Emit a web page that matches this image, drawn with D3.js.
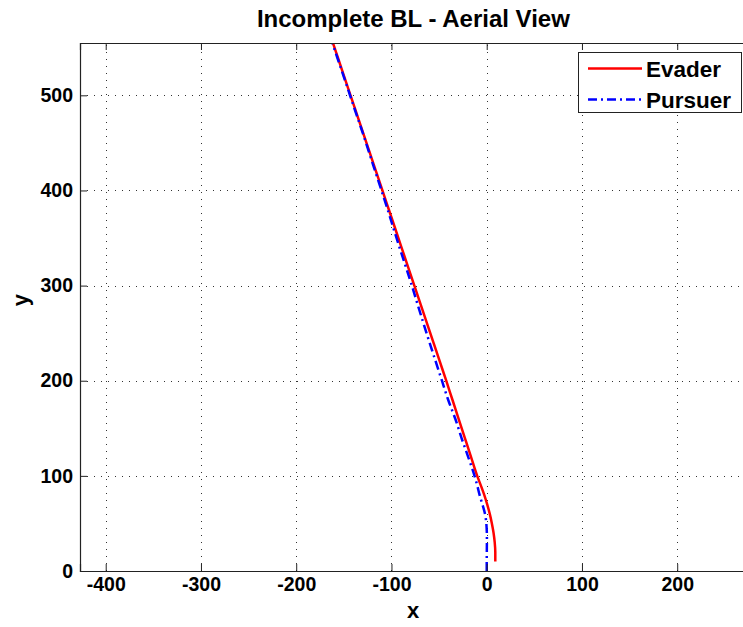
<!DOCTYPE html>
<html>
<head>
<meta charset="utf-8">
<script src="https://cdn.jsdelivr.net/npm/d3@7"></script>
<style>
  html, body { margin: 0; padding: 0; background: #fff; }
  svg { display: block; font-family: "Liberation Sans", Arial, sans-serif; font-weight: bold; }
</style>
</head>
<body>
<svg id="chart" width="743" height="627"></svg>
<script>
// Trajectory samples (x, y) for both agents
const evaderX = [9, 9, 8.4, 7.2, 5.4, 3.2, 0.5, -2.6, -6.2, -10, -16.5, -23, -29.5, -36, -42.5, -49.2, -55.9, -62.6, -69.3, -76, -82.7, -89.4, -96.1, -102.8, -109.5, -116.2, -122.9, -129.6, -136.3, -143, -149.7, -156.4, -163.1];
const evaderY = [10, 20, 30, 40, 50, 60, 70, 80, 90, 100, 120, 140, 160, 180, 200, 220, 240, 260, 280, 300, 320, 340, 360, 380, 400, 420, 440, 460, 480, 500, 520, 540, 560];

const pursuerX = [0, 0, 0.1, 0.2, -0.4, -1.8, -4.5, -7.5, -10, -12.8, -19.5, -26.5, -33, -40.5, -47, -53.5, -60, -66.3, -72.5, -78.6, -85, -91.5, -97.8, -104, -110.5, -117, -123.5, -130, -136.8, -143.5, -150.2, -157, -163.7];
const pursuerY = [0, 10, 20, 35, 50, 60, 70, 80, 90, 100, 120, 140, 160, 180, 200, 220, 240, 260, 280, 300, 320, 340, 360, 380, 400, 420, 440, 460, 480, 500, 520, 540, 560];

const xTicks = [-400, -300, -200, -100, 0, 100, 200];
const yTicks = [0, 100, 200, 300, 400, 500];
const seriesNames = ["Evader", "Pursuer"];

const svg = d3.select("#chart");
const plotLeft = 80, plotTop = 43, plotBottom = 571;
const xScale = d3.scaleLinear().domain([-427, 273]).range([plotLeft, plotLeft + 700 * 0.9525]);
const yScale = d3.scaleLinear().domain([0, 555]).range([plotBottom, plotTop]);
const plotRight = xScale.range()[1];

svg.append("defs").append("clipPath").attr("id", "plotClip")
  .append("rect").attr("x", plotLeft).attr("y", plotTop)
  .attr("width", plotRight - plotLeft).attr("height", plotBottom - plotTop);

// axes background
svg.append("rect").attr("x", plotLeft).attr("y", plotTop)
  .attr("width", plotRight - plotLeft).attr("height", plotBottom - plotTop).attr("fill", "#fff");

// dotted grid
const grid = svg.append("g").attr("stroke", "#333").attr("stroke-width", 1)
  .attr("stroke-dasharray", "1,6");
xTicks.forEach(t => grid.append("line")
  .attr("x1", Math.round(xScale(t)) + 0.5).attr("x2", Math.round(xScale(t)) + 0.5)
  .attr("y1", plotBottom).attr("y2", plotTop));
yTicks.filter(t => t > 0).forEach(t => grid.append("line")
  .attr("y1", Math.round(yScale(t)) + 0.5).attr("y2", Math.round(yScale(t)) + 0.5)
  .attr("x1", plotLeft).attr("x2", plotRight));

// trajectories
const lineGen = d3.line().x(d => xScale(d[0])).y(d => yScale(d[1])).curve(d3.curveMonotoneY);
const plot = svg.append("g").attr("clip-path", "url(#plotClip)");
plot.append("path").datum(evaderX.map((x, i) => [x, evaderY[i]]))
  .attr("d", lineGen).attr("fill", "none").attr("stroke", "#ff0000").attr("stroke-width", 2.5);
plot.append("path").datum(pursuerX.map((x, i) => [x, pursuerY[i]]))
  .attr("d", lineGen).attr("fill", "none").attr("stroke", "#0000ff").attr("stroke-width", 2.5)
  .attr("stroke-dasharray", "9,4,2,4");

// axes with inward ticks
const xAxis = d3.axisBottom(xScale).tickValues(xTicks).tickSize(-7).tickPadding(6)
  .tickFormat(d3.format("d"));
const xTopAxis = d3.axisTop(xScale).tickValues(xTicks).tickSize(-7).tickFormat("");
const yAxis = d3.axisLeft(yScale).tickValues(yTicks).tickSize(-7).tickPadding(7)
  .tickFormat(d3.format("d"));

function styleAxis(g) {
  g.select(".domain").attr("stroke", "#222").attr("stroke-width", 1.2);
  g.selectAll(".tick line").attr("stroke", "#222").attr("stroke-width", 1);
  g.selectAll(".tick text").attr("fill", "#000")
    .style("font-family", "'Liberation Sans', Arial, sans-serif").style("font-weight", "bold")
    .style("font-size", "19.5px").text(function () { return this.textContent.replace("\u2212", "-"); });
}
svg.append("g").attr("transform", `translate(0,${plotBottom})`).call(xAxis).call(styleAxis);
svg.append("g").attr("transform", `translate(0,${plotTop})`).call(xTopAxis).call(styleAxis);
svg.append("g").attr("transform", `translate(${plotLeft},0)`).call(yAxis).call(styleAxis);

// title and axis labels
svg.append("text").attr("x", (plotLeft + plotRight) / 2).attr("y", 27).attr("text-anchor", "middle")
  .style("font-size", "24px").text("Incomplete BL - Aerial View");
svg.append("text").attr("x", 413).attr("y", 618).attr("text-anchor", "middle")
  .style("font-size", "22px").text("x");
svg.append("text").attr("transform", "translate(28,300) rotate(-90)").attr("text-anchor", "middle")
  .style("font-size", "22px").text("y");

// legend
const legend = svg.append("g");
legend.append("rect").attr("x", 578.5).attr("y", 52.5).attr("width", 163).attr("height", 60)
  .attr("fill", "#fff").attr("stroke", "#222").attr("stroke-width", 1);
const legendStyles = [
  { color: "#ff0000", dash: null },
  { color: "#0000ff", dash: "9,4,2,4" }
];
seriesNames.forEach((name, i) => {
  const cy = 68.5 + i * 31;
  legend.append("line").attr("x1", 588).attr("x2", 642).attr("y1", cy).attr("y2", cy)
    .attr("stroke", legendStyles[i].color).attr("stroke-width", 2.5)
    .attr("stroke-dasharray", legendStyles[i].dash);
  legend.append("text").attr("x", 646).attr("y", cy + 8).style("font-size", "22.5px").text(name);
});
</script>
</body>
</html>
